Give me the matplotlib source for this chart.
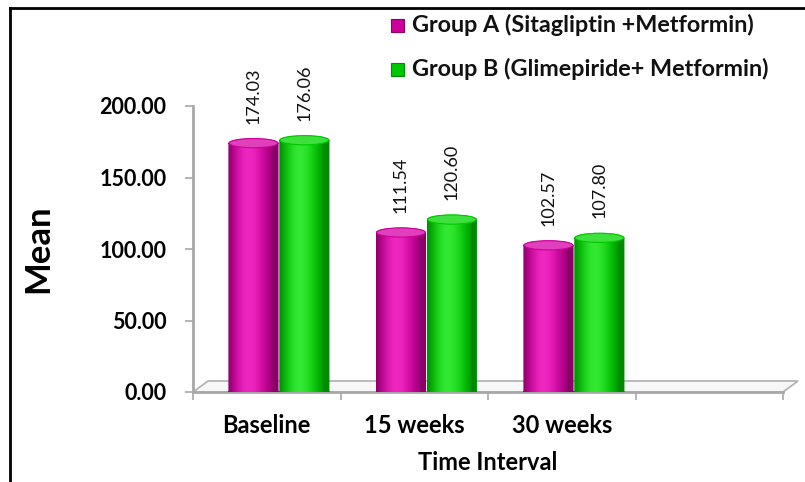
import numpy as np
import matplotlib.pyplot as plt
from matplotlib.patches import Rectangle, Ellipse, PathPatch, Polygon
from matplotlib.path import Path
from matplotlib.lines import Line2D

plt.rcParams['font.family'] = ['Lato', 'DejaVu Sans']

categories = ["Baseline", "15 weeks", "30 weeks", ""]
group_a = [174.03, 111.54, 102.57]
group_b = [176.06, 120.60, 107.80]
series_names = ["Group A (Sitagliptin +Metformin)", "Group B (Glimepiride+ Metformin)"]
yticks = [0, 50, 100, 150, 200]

# cylinder shading: edge, body, highlight, top face
pink = ["#8a0068", "#cc009c", "#f730c8", "#e040bc"]
green = ["#008a00", "#00c800", "#40f040", "#3ee03e"]


def shade(cols, n=64):
    # horizontal colour ramp across the cylinder, bright spot left of centre
    c = np.array([[int(h[i:i + 2], 16) / 255 for i in (1, 3, 5)] for h in cols[:3]])
    t = np.linspace(0, 1, n)
    prof = np.exp(-((t - 0.4) / 0.28) ** 2)
    edge = np.clip(np.abs(t - 0.45) * 2.2, 0, 1) ** 3
    rgb = c[1] + (c[2] - c[1]) * prof[:, None] * 0.8
    rgb = rgb * (1 - edge[:, None]) + c[0] * edge[:, None]
    return np.clip(rgb, 0, 1)[None, :, :]


def cylinder(ax, xc, h, w, cols, cap=7.0):
    x0 = xc - w / 2
    body = Rectangle((x0, 0), w, h)
    top = Ellipse((xc, h), w, cap)
    bot = Ellipse((xc, 0), w, cap)
    path = Path.make_compound_path(
        body.get_path().transformed(body.get_patch_transform()),
        top.get_path().transformed(top.get_patch_transform()),
        bot.get_path().transformed(bot.get_patch_transform()))
    clip = PathPatch(path, transform=ax.transData, facecolor="none", edgecolor="none")
    ax.add_patch(clip)
    im = ax.imshow(shade(cols), extent=[x0, x0 + w, -cap / 2, h + cap / 2],
                   aspect="auto", interpolation="bilinear", zorder=3)
    im.set_clip_path(clip)
    im.set_clip_on(True)
    ax.add_patch(Ellipse((xc, h), w * 0.97, cap * 0.92, facecolor=cols[3],
                         edgecolor=cols[1], lw=0.8, zorder=4, clip_on=False))


fig = plt.figure(figsize=(8.05, 4.82), dpi=100)
ax = fig.add_axes([193 / 805, 90 / 482, 590 / 805, 286 / 482])

x = np.arange(len(categories))
bw = 0.34
for i in range(len(group_a)):
    for val, off, cols in ((group_a[i], -0.09, pink), (group_b[i], 0.255, green)):
        cylinder(ax, x[i] + off, val, bw, cols)
        ax.annotate(f"{val:.2f}", (x[i] + off, val), xytext=(0, 14),
                    textcoords="offset points", rotation=90, ha="center",
                    va="bottom", fontsize=13, color="#111111",
                    annotation_clip=False)

# floor of the 3-D plot area
dx, dy = 15 / 147.5, 11 / 1.43
floor = Polygon([(-0.5, 0), (3.5, 0), (3.5 + dx, dy), (-0.5 + dx, dy)],
                closed=True, facecolor="#f7f7f7", edgecolor="#b0b0b0", lw=1.2,
                zorder=1, clip_on=False)
ax.add_patch(floor)
ax.plot([-0.5, 3.5], [0, 0], color="#a8a8a8", lw=2.0, zorder=2, clip_on=False)

ax.set_xlim(-0.5, 3.5)
ax.set_ylim(0, 200)
for s in ("top", "right", "bottom"):
    ax.spines[s].set_visible(False)
ax.spines["left"].set_color("#a8a8a8")
ax.spines["left"].set_linewidth(2.0)

ax.set_yticks(yticks)
ax.set_yticklabels([f"{v:.2f}" for v in yticks], fontsize=15.5, fontweight="bold")
ax.tick_params(axis="y", length=6, width=1.2, color="#a8a8a8", pad=13)

ax.set_xticks(x[:3])
ax.set_xticklabels(categories[:3], fontsize=17, fontweight="bold")
ax.set_xticks(np.arange(-0.5, 4.0, 1.0), minor=True)
ax.tick_params(axis="x", which="major", length=0, pad=16)
ax.tick_params(axis="x", which="minor", length=6, width=1.2, color="#a8a8a8")

ax.set_xlabel("Time Interval", fontsize=17, fontweight="bold")
ax.xaxis.set_label_coords(0.5, (392 - 463) / 286)
ax.xaxis.label.set_va("center")
ax.set_ylabel("Mean", fontsize=25, fontweight="bold")
ax.yaxis.set_label_coords((38 - 193) / 590, 0.5)
ax.yaxis.label.set_va("center")

# legend in the top right corner
for j, (name, cols) in enumerate(zip(series_names, (pink, green))):
    yc = 1 - (25 + 44 * j) / 482
    fig.patches.append(Rectangle((391 / 805, yc - 7 / 482), 13 / 805, 13 / 482,
                                 transform=fig.transFigure, facecolor=cols[1],
                                 edgecolor=cols[0], lw=0.8))
    fig.text(412 / 805, yc, name, fontsize=16.8, fontweight="bold",
             va="center", ha="left", color="#111111")

# frame lines on the left and top edges
fig.add_artist(Line2D([10 / 805, 10 / 805], [0, 1 - 8 / 482], color="black", lw=2,
                      transform=fig.transFigure))
fig.add_artist(Line2D([10 / 805, 1], [1 - 8 / 482, 1 - 8 / 482], color="black", lw=2,
                      transform=fig.transFigure))

fig.savefig("out.png", dpi=100)
